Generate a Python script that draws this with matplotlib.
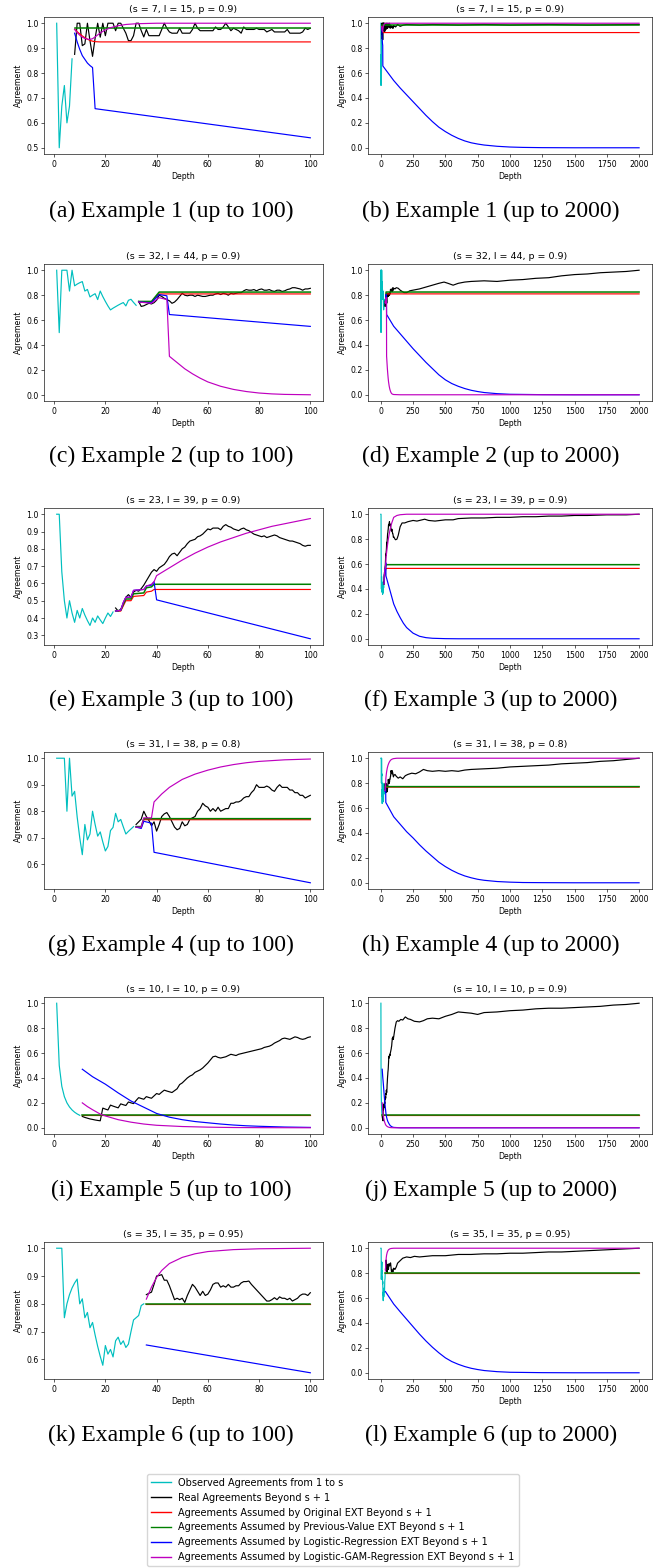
import numpy as np
import matplotlib.pyplot as plt
from matplotlib.lines import Line2D

# ---------------- data ----------------
# (s, l, p) of each example
ex_params = [(7, 15, 0.9), (32, 44, 0.9), (23, 39, 0.9), (31, 38, 0.8), (10, 10, 0.9), (35, 35, 0.95)]

# Example 1
ex1_obs = [1.0, 0.5, 0.667, 0.75, 0.6, 0.667, 0.857]
ex1_real_near = [0.875, 1.0, 1.0, 0.91, 0.917, 1.0, 0.93, 0.867, 0.94, 1.0,
                 0.944, 1.0, 0.95, 1.0, 1.0, 1.0, 0.97, 1.0, 1.0, 0.98,
                 0.96, 0.93, 0.93, 0.95, 1.0, 1.0, 0.97, 0.945, 0.975, 0.95,
                 0.95, 0.95, 0.95, 0.95, 0.975, 1.0, 0.98, 0.965, 0.96, 0.96,
                 0.96, 0.98, 0.96, 0.96, 0.96, 0.96, 0.975, 1.0, 0.98, 0.97,
                 0.97, 0.97, 0.97, 0.97, 0.97, 0.985, 0.975, 0.975, 0.985, 1.0,
                 0.985, 0.97, 0.98, 0.975, 0.97, 0.96, 0.985, 0.975, 0.975, 0.975,
                 0.975, 0.98, 0.975, 0.975, 0.975, 0.965, 0.97, 0.975, 0.965, 0.965,
                 0.965, 0.965, 0.965, 0.975, 0.96, 0.96, 0.96, 0.96, 0.96, 0.965,
                 0.98, 0.975, 0.98]
ex1_real_far = [(115, 0.97), (130, 0.99), (150, 0.975), (175, 0.985), (200, 0.99), (300, 0.985),
                (400, 0.99), (600, 0.985), (800, 0.99), (1000, 0.985), (1300, 0.99), (1600, 0.985), (2000, 0.99)]
ex1_orig = [(8, 0.976), (9, 0.966), (10, 0.957), (11, 0.949), (12, 0.942), (13, 0.936), (14, 0.931),
            (15, 0.928), (16, 0.926), (18, 0.925), (100, 0.925), (2000, 0.925)]
ex1_prev = [(8, 0.982), (100, 0.982), (2000, 0.982)]
ex1_logit = [(8, 0.96), (9, 0.925), (10, 0.895), (11, 0.87), (12, 0.855), (13, 0.84), (14, 0.83), (15, 0.822),
             (16, 0.657), (100, 0.54), (150, 0.48), (200, 0.425), (250, 0.37), (300, 0.315), (350, 0.26),
             (400, 0.21), (450, 0.165), (500, 0.13), (550, 0.10), (600, 0.075), (650, 0.055), (700, 0.04),
             (750, 0.03), (800, 0.022), (900, 0.012), (1000, 0.006), (1100, 0.003), (1250, 0.001),
             (1500, 0.0), (2000, 0.0)]
ex1_gam = [(8, 0.975), (9, 0.962), (10, 0.952), (11, 0.944), (12, 0.939), (13, 0.936), (14, 0.935),
           (15, 0.938), (16, 0.945), (17, 0.953), (18, 0.961), (20, 0.973), (22, 0.982), (25, 0.99),
           (28, 0.995), (32, 0.998), (40, 1.0), (100, 1.0), (2000, 1.0)]

# Example 2
ex2_obs = [1.0, 0.5, 1.0, 1.0, 1.0, 0.833, 1.0, 0.875, 0.889, 0.9, 0.909, 0.833, 0.846, 0.786, 0.8, 0.812,
           0.765, 0.833, 0.789, 0.75, 0.714, 0.682, 0.696, 0.708, 0.72, 0.731, 0.741, 0.714, 0.759, 0.767,
           0.742, 0.719]
ex2_real_near = [0.75, 0.71, 0.715, 0.725, 0.735, 0.73, 0.74, 0.76, 0.80, 0.79,
                 0.775, 0.765, 0.755, 0.735, 0.745, 0.765, 0.79, 0.815, 0.80, 0.795,
                 0.80, 0.80, 0.79, 0.80, 0.795, 0.79, 0.79, 0.795, 0.80, 0.80,
                 0.81, 0.815, 0.805, 0.815, 0.81, 0.80, 0.815, 0.81, 0.815, 0.82,
                 0.82, 0.835, 0.845, 0.84, 0.84, 0.845, 0.835, 0.845, 0.85, 0.84,
                 0.84, 0.845, 0.835, 0.83, 0.84, 0.84, 0.83, 0.835, 0.845, 0.85,
                 0.86, 0.86, 0.855, 0.85, 0.84, 0.85, 0.85, 0.855]
ex2_real_far = [(110, 0.85), (120, 0.86), (135, 0.855), (150, 0.84), (165, 0.83), (180, 0.82), (200, 0.82),
                (225, 0.835), (250, 0.84), (300, 0.85), (350, 0.865), (400, 0.88), (450, 0.895), (490, 0.905),
                (520, 0.895), (560, 0.88), (600, 0.895), (650, 0.905), (700, 0.91), (800, 0.915), (900, 0.91),
                (1000, 0.92), (1100, 0.925), (1200, 0.935), (1300, 0.94), (1400, 0.955), (1500, 0.965),
                (1600, 0.97), (1700, 0.98), (1800, 0.985), (1900, 0.99), (2000, 1.0)]
ex2_orig = [(33, 0.745), (38, 0.745), (41, 0.81), (100, 0.81), (2000, 0.81)]
ex2_prev = [(33, 0.75), (38, 0.75), (41, 0.825), (100, 0.825), (2000, 0.825)]
ex2_logit = [(33, 0.745), (38, 0.74), (41, 0.805), (44, 0.795), (45, 0.645), (100, 0.55), (150, 0.49),
             (200, 0.43), (250, 0.37), (300, 0.315), (350, 0.26), (400, 0.21), (450, 0.16), (500, 0.12),
             (550, 0.09), (600, 0.068), (650, 0.05), (700, 0.036), (750, 0.026), (800, 0.018), (900, 0.009),
             (1000, 0.004), (1250, 0.001), (1500, 0.0), (2000, 0.0)]
ex2_gam = [(33, 0.745), (38, 0.735), (41, 0.78), (44, 0.765), (45, 0.31), (48, 0.26), (51, 0.21), (54, 0.17),
           (57, 0.135), (60, 0.105), (65, 0.07), (70, 0.045), (75, 0.028), (80, 0.016), (85, 0.009),
           (90, 0.005), (100, 0.002), (150, 0.0), (2000, 0.0)]

# Example 3
ex3_obs = [1.0, 1.0, 0.667, 0.5, 0.4, 0.5, 0.429, 0.375, 0.444, 0.4, 0.455, 0.417, 0.385, 0.357, 0.4,
           0.375, 0.412, 0.389, 0.368, 0.4, 0.429, 0.409, 0.435]
ex3_real_near = [0.458, 0.44, 0.45, 0.48, 0.52, 0.535, 0.52, 0.55, 0.56, 0.555,
                 0.57, 0.59, 0.615, 0.64, 0.665, 0.68, 0.67, 0.69, 0.70, 0.71,
                 0.73, 0.755, 0.77, 0.775, 0.76, 0.78, 0.80, 0.81, 0.83, 0.845,
                 0.85, 0.855, 0.87, 0.875, 0.885, 0.90, 0.915, 0.91, 0.92, 0.92,
                 0.92, 0.91, 0.93, 0.94, 0.93, 0.925, 0.915, 0.91, 0.905, 0.915,
                 0.92, 0.91, 0.905, 0.895, 0.885, 0.88, 0.875, 0.87, 0.875, 0.865,
                 0.87, 0.875, 0.88, 0.875, 0.865, 0.86, 0.855, 0.85, 0.845, 0.845,
                 0.84, 0.835, 0.83, 0.82, 0.815, 0.82, 0.82]
ex3_real_far = [(105, 0.81), (110, 0.80), (115, 0.795), (125, 0.80), (135, 0.83), (150, 0.9), (165, 0.93),
                (185, 0.93), (210, 0.94), (250, 0.95), (280, 0.945), (320, 0.955), (340, 0.96), (370, 0.95),
                (420, 0.945), (500, 0.955), (560, 0.955), (600, 0.965), (700, 0.97), (800, 0.97),
                (900, 0.975), (1000, 0.975), (1100, 0.98), (1200, 0.98), (1300, 0.985), (1400, 0.985),
                (1500, 0.99), (1600, 0.99), (1750, 0.995), (1900, 0.995), (2000, 1.0)]
ex3_orig = [(24, 0.44), (26, 0.44), (27, 0.47), (28, 0.50), (30, 0.50), (31, 0.525), (35, 0.53), (36, 0.55),
            (38, 0.555), (39, 0.565), (100, 0.565), (2000, 0.565)]
ex3_prev = [(24, 0.44), (26, 0.445), (27, 0.48), (28, 0.51), (30, 0.51), (31, 0.54), (35, 0.545), (36, 0.575),
            (38, 0.58), (39, 0.595), (100, 0.595), (2000, 0.595)]
ex3_logit = [(24, 0.44), (26, 0.445), (27, 0.49), (28, 0.52), (30, 0.52), (31, 0.56), (35, 0.565), (36, 0.585),
             (38, 0.59), (39, 0.61), (40, 0.505), (100, 0.28), (125, 0.22), (150, 0.17), (175, 0.125),
             (200, 0.09), (250, 0.045), (300, 0.02), (350, 0.009), (400, 0.004), (500, 0.001), (600, 0.0),
             (2000, 0.0)]
ex3_gam = [(24, 0.44), (26, 0.445), (27, 0.49), (28, 0.52), (30, 0.52), (31, 0.56), (35, 0.565), (36, 0.585),
           (38, 0.595), (39, 0.61), (40, 0.645), (45, 0.69), (50, 0.735), (55, 0.775), (60, 0.81), (65, 0.84),
           (70, 0.865), (75, 0.89), (80, 0.91), (85, 0.93), (90, 0.945), (95, 0.96), (100, 0.975),
           (125, 0.99), (150, 0.996), (200, 1.0), (2000, 1.0)]

# Example 4
ex4_obs = [1.0, 1.0, 1.0, 1.0, 0.8, 1.0, 0.857, 0.875, 0.778, 0.7, 0.636, 0.75, 0.692, 0.714, 0.8, 0.75,
           0.706, 0.722, 0.684, 0.65, 0.667, 0.727, 0.739, 0.792, 0.76, 0.769, 0.741, 0.714, 0.724, 0.733,
           0.742]
ex4_real_near = [0.75, 0.76, 0.77, 0.80, 0.78, 0.765, 0.745, 0.76, 0.725, 0.75,
                 0.78, 0.79, 0.795, 0.78, 0.76, 0.74, 0.73, 0.735, 0.76, 0.745,
                 0.75, 0.77, 0.775, 0.78, 0.80, 0.81, 0.83, 0.82, 0.815, 0.80,
                 0.81, 0.80, 0.815, 0.80, 0.805, 0.81, 0.81, 0.83, 0.83, 0.835,
                 0.835, 0.84, 0.85, 0.855, 0.855, 0.87, 0.88, 0.90, 0.89, 0.89,
                 0.89, 0.895, 0.89, 0.88, 0.875, 0.89, 0.90, 0.89, 0.89, 0.89,
                 0.88, 0.88, 0.87, 0.87, 0.86, 0.86, 0.85, 0.855, 0.86]
ex4_real_far = [(110, 0.87), (120, 0.855), (135, 0.84), (150, 0.85), (170, 0.835), (190, 0.86), (210, 0.87),
                (240, 0.88), (270, 0.875), (300, 0.89), (330, 0.91), (360, 0.9), (400, 0.895), (450, 0.9),
                (500, 0.895), (550, 0.9), (600, 0.895), (650, 0.905), (700, 0.91), (800, 0.915), (900, 0.92),
                (1000, 0.93), (1100, 0.935), (1200, 0.94), (1300, 0.945), (1400, 0.955), (1500, 0.96),
                (1600, 0.965), (1700, 0.975), (1800, 0.98), (1900, 0.99), (2000, 1.0)]
ex4_orig = [(32, 0.74), (34, 0.74), (35, 0.768), (100, 0.768), (2000, 0.768)]
ex4_prev = [(32, 0.742), (34, 0.742), (35, 0.772), (100, 0.772), (2000, 0.772)]
ex4_logit = [(32, 0.74), (34, 0.735), (35, 0.762), (38, 0.755), (39, 0.645), (100, 0.53), (150, 0.47),
             (200, 0.41), (250, 0.36), (300, 0.305), (350, 0.255), (400, 0.21), (450, 0.165), (500, 0.13),
             (550, 0.10), (600, 0.075), (650, 0.055), (700, 0.04), (750, 0.028), (800, 0.02), (900, 0.01),
             (1000, 0.005), (1100, 0.002), (1250, 0.001), (1500, 0.0), (2000, 0.0)]
ex4_gam = [(32, 0.74), (34, 0.74), (35, 0.775), (38, 0.775), (39, 0.835), (42, 0.865), (45, 0.89), (50, 0.92),
           (55, 0.94), (60, 0.955), (65, 0.967), (70, 0.976), (75, 0.983), (80, 0.988), (90, 0.994),
           (100, 0.997), (125, 1.0), (2000, 1.0)]

# Example 5
ex5_obs = [1.0, 0.5, 0.333, 0.25, 0.2, 0.167, 0.143, 0.125, 0.111, 0.1]
ex5_real_near = [0.091, 0.083, 0.077, 0.071, 0.067, 0.0625, 0.059, 0.056, 0.158, 0.15,
                 0.143, 0.182, 0.174, 0.167, 0.16, 0.192, 0.185, 0.179, 0.207, 0.2,
                 0.194, 0.219, 0.242, 0.235, 0.229, 0.25, 0.243, 0.237, 0.256, 0.275,
                 0.268, 0.286, 0.302, 0.295, 0.289, 0.283, 0.298, 0.313, 0.347, 0.36,
                 0.38, 0.40, 0.415, 0.425, 0.445, 0.455, 0.465, 0.48, 0.50, 0.52,
                 0.545, 0.57, 0.575, 0.565, 0.56, 0.565, 0.57, 0.58, 0.59, 0.585,
                 0.58, 0.59, 0.595, 0.60, 0.605, 0.61, 0.615, 0.62, 0.625, 0.63,
                 0.635, 0.645, 0.65, 0.655, 0.665, 0.68, 0.69, 0.70, 0.715, 0.72,
                 0.715, 0.71, 0.72, 0.73, 0.725, 0.715, 0.71, 0.715, 0.725, 0.73]
ex5_real_far = [(110, 0.80), (120, 0.85), (130, 0.86), (140, 0.855), (155, 0.87), (170, 0.865), (190, 0.89),
                (210, 0.875), (230, 0.87), (260, 0.855), (300, 0.85), (330, 0.86), (360, 0.875), (400, 0.88),
                (450, 0.875), (500, 0.895), (550, 0.91), (600, 0.93), (650, 0.925), (700, 0.92), (750, 0.91),
                (800, 0.925), (900, 0.93), (1000, 0.94), (1100, 0.945), (1200, 0.955), (1300, 0.96),
                (1400, 0.96), (1500, 0.965), (1600, 0.97), (1700, 0.975), (1800, 0.985), (1900, 0.99),
                (2000, 1.0)]
ex5_orig = [(11, 0.1), (100, 0.1), (2000, 0.1)]
ex5_prev = [(11, 0.1), (100, 0.1), (2000, 0.1)]
ex5_logit = [(11, 0.47), (15, 0.41), (20, 0.35), (25, 0.28), (30, 0.215), (35, 0.165), (40, 0.115),
             (45, 0.085), (50, 0.065), (55, 0.05), (60, 0.04), (65, 0.03), (70, 0.022), (75, 0.016),
             (80, 0.012), (90, 0.006), (100, 0.003), (150, 0.0), (2000, 0.0)]
ex5_gam = [(11, 0.20), (13, 0.17), (15, 0.145), (18, 0.11), (20, 0.095), (25, 0.065), (30, 0.045), (35, 0.03),
           (40, 0.02), (50, 0.01), (60, 0.005), (70, 0.002), (80, 0.001), (100, 0.0), (2000, 0.0)]

# Example 6
ex6_obs = [1.0, 1.0, 1.0, 0.75, 0.8, 0.833, 0.857, 0.875, 0.889, 0.8, 0.818, 0.75, 0.769, 0.714, 0.733,
           0.688, 0.647, 0.611, 0.579, 0.65, 0.619, 0.636, 0.609, 0.667, 0.68, 0.654, 0.667, 0.643, 0.655,
           0.7, 0.742, 0.75, 0.758, 0.794, 0.8]
ex6_real_near = [0.833, 0.838, 0.842, 0.87, 0.90, 0.902, 0.905, 0.885, 0.885, 0.865,
                 0.84, 0.815, 0.82, 0.815, 0.82, 0.805, 0.83, 0.85, 0.87, 0.86,
                 0.845, 0.83, 0.845, 0.83, 0.835, 0.85, 0.87, 0.875, 0.875, 0.86,
                 0.865, 0.86, 0.87, 0.86, 0.86, 0.865, 0.865, 0.875, 0.88, 0.88,
                 0.882, 0.87, 0.86, 0.85, 0.84, 0.83, 0.82, 0.81, 0.81, 0.815,
                 0.822, 0.815, 0.825, 0.82, 0.82, 0.815, 0.82, 0.81, 0.815, 0.82,
                 0.83, 0.835, 0.835, 0.83, 0.84]
ex6_real_far = [(110, 0.83), (120, 0.85), (130, 0.88), (150, 0.9), (170, 0.92), (200, 0.93), (230, 0.925),
                (260, 0.935), (300, 0.93), (350, 0.935), (400, 0.94), (500, 0.94), (600, 0.95), (700, 0.95),
                (800, 0.955), (900, 0.955), (1000, 0.96), (1100, 0.96), (1200, 0.965), (1300, 0.97),
                (1400, 0.97), (1500, 0.975), (1600, 0.98), (1700, 0.985), (1800, 0.99), (1900, 0.995),
                (2000, 1.0)]
ex6_orig = [(36, 0.80), (100, 0.80), (2000, 0.80)]
ex6_prev = [(36, 0.80), (100, 0.80), (2000, 0.80)]
ex6_logit = [(36, 0.652), (100, 0.552), (150, 0.49), (200, 0.43), (250, 0.37), (300, 0.31), (350, 0.255),
             (400, 0.205), (450, 0.16), (500, 0.12), (550, 0.09), (600, 0.068), (650, 0.05), (700, 0.036),
             (750, 0.026), (800, 0.018), (900, 0.009), (1000, 0.004), (1250, 0.001), (1500, 0.0), (2000, 0.0)]
ex6_gam = [(36, 0.817), (38, 0.86), (40, 0.895), (42, 0.92), (45, 0.945), (50, 0.967), (55, 0.98),
           (60, 0.988), (70, 0.995), (80, 0.998), (100, 1.0), (2000, 1.0)]

legend_labels = ['Observed Agreements from 1 to s',
                 'Real Agreements Beyond s + 1',
                 'Agreements Assumed by Original EXT Beyond s + 1',
                 'Agreements Assumed by Previous-Value EXT Beyond s + 1',
                 'Agreements Assumed by Logistic-Regression EXT Beyond s + 1',
                 'Agreements Assumed by Logistic-GAM-Regression EXT Beyond s + 1']
colors = ['c', 'k', 'r', 'g', 'b', 'm']

examples = [
    (ex1_obs, ex1_real_near, ex1_real_far, ex1_orig, ex1_prev, ex1_logit, ex1_gam),
    (ex2_obs, ex2_real_near, ex2_real_far, ex2_orig, ex2_prev, ex2_logit, ex2_gam),
    (ex3_obs, ex3_real_near, ex3_real_far, ex3_orig, ex3_prev, ex3_logit, ex3_gam),
    (ex4_obs, ex4_real_near, ex4_real_far, ex4_orig, ex4_prev, ex4_logit, ex4_gam),
    (ex5_obs, ex5_real_near, ex5_real_far, ex5_orig, ex5_prev, ex5_logit, ex5_gam),
    (ex6_obs, ex6_real_near, ex6_real_far, ex6_orig, ex6_prev, ex6_logit, ex6_gam),
]

# ---------------- layout ----------------
W, H = 665.0, 1568.0
tops = [17, 264, 508, 752, 997, 1242]
ax_h = 137
cols = [(44, 279), (368, 284)]
cap_x = [171, 491]
cap_y = [211, 456, 700, 945, 1190, 1435]
lw = 0.85
fs = 5.6


def split(series, xmax):
    x = np.array([p[0] for p in series], dtype=float)
    y = np.array([p[1] for p in series], dtype=float)
    keep = x <= xmax
    return x[keep], y[keep]


fig = plt.figure(figsize=(W / 100, H / 100), dpi=100)

letter = 0
for i, ex in enumerate(examples):
    obs, real_near, real_far, orig, prev, logit, gam = ex
    s, l, p = ex_params[i]
    for j, xmax in enumerate([100, 2000]):
        left, width = cols[j]
        ax = fig.add_axes([left / W, 1 - (tops[i] + ax_h) / H, width / W, ax_h / H])

        ax.plot(np.arange(1, s + 1), obs, color='c', lw=lw)

        far_x, far_y = split(real_far, xmax)
        real_x = np.concatenate([np.arange(s + 1, 101), far_x])
        real_y = np.concatenate([real_near, far_y])
        ax.plot(real_x, real_y, color='k', lw=lw)

        # green drawn a touch wider so it covers red where both are equal
        for series, c, w in zip([orig, prev, logit, gam], colors[2:], [lw, 1.1, lw, lw]):
            x, y = split(series, xmax)
            ax.plot(x, y, color=c, lw=w)

        if j == 0:
            ax.set_xticks([0, 20, 40, 60, 80, 100])
        else:
            ax.set_xticks(np.arange(0, 2001, 250))
        ax.set_title('(s = %d, l = %d, p = %s)' % (s, l, p), fontsize=6.8, pad=3.4)
        ax.set_xlabel('Depth', fontsize=fs, labelpad=2.2)
        ax.set_ylabel('Agreement', fontsize=fs, labelpad=2.2)
        ax.tick_params(labelsize=fs, length=2.0, width=0.45, pad=2.0)
        for sp in ax.spines.values():
            sp.set_linewidth(0.45)

        cap = '(%s) Example %d (up to %d)' % ('abcdefghijkl'[letter], i + 1, xmax)
        fig.text(cap_x[j] / W, 1 - cap_y[i] / H, cap, ha='center', va='center',
                 fontsize=17, family='Liberation Serif')
        letter += 1

handles = [Line2D([], [], color=c, lw=1.0) for c in colors]
fig.legend(handles, legend_labels, loc='upper center', bbox_to_anchor=(333 / W, 1 - 1474 / H),
           fontsize=7, borderaxespad=0)

fig.savefig('out.png', dpi=100)
